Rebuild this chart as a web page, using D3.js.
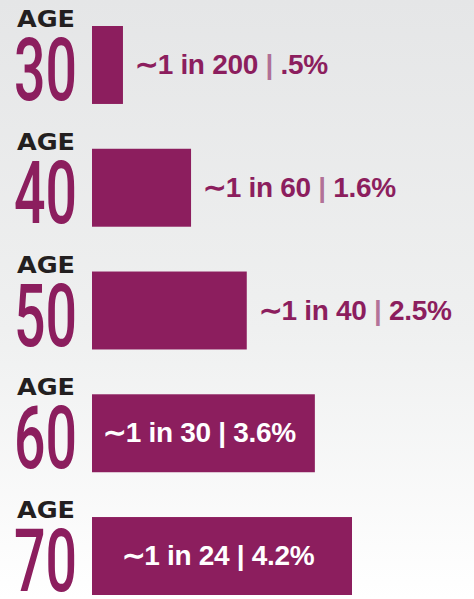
<!DOCTYPE html>
<html>
<head>
<meta charset="utf-8">
<script src="https://cdn.jsdelivr.net/npm/d3@7"></script>
<style>
  html, body { margin: 0; padding: 0; background: #fff; }
  svg { display: block; }
</style>
</head>
<body>
<svg id="drawing_region"></svg>
<script>
// data
const ages = ["30", "40", "50", "60", "70"];
const percents = [0.5, 1.6, 2.5, 3.6, 4.2];
const odds = ["1 in 200", "1 in 60", "1 in 40", "1 in 30", "1 in 24"];
const pctLabels = [".5%", "1.6%", "2.5%", "3.6%", "4.2%"];

const data = ages.map((a, i) => ({ age: a, value: percents[i], odds: odds[i], pct: pctLabels[i] }));

const width = 474;
const height = 599;
const purple = "#8c1e5e";
const margin = {top: 26, right: 10, bottom: 4, left: 92};

const svg = d3.select('#drawing_region')
    .attr('width', width)
    .attr('height', height);

// soft grey to white background
const grad = svg.append("defs").append("linearGradient")
    .attr("id", "bg").attr("x1", 0).attr("y1", 0).attr("x2", 0).attr("y2", 1);
grad.append("stop").attr("offset", "0%").attr("stop-color", "#e5e6e7");
grad.append("stop").attr("offset", "55%").attr("stop-color", "#eff0f0");
grad.append("stop").attr("offset", "100%").attr("stop-color", "#ffffff");
svg.append("rect").attr("width", width).attr("height", height).attr("fill", "url(#bg)");

const xscale = d3.scaleLinear()
    .domain([0, d3.max(data, d => d.value)])
    .range([0, 260]);

const yscale = d3.scaleBand()
    .domain(data.map(d => d.age))
    .range([margin.top, height - margin.bottom])
    .paddingInner(0.365)
    .paddingOuter(0);

const chart = svg.append('g');

// bars
chart.selectAll("rect.bar").data(data).enter()
    .append("rect")
    .attr("class", "bar")
    .attr("x", margin.left)
    .attr("y", d => yscale(d.age))
    .attr("width", d => xscale(d.value))
    .attr("height", yscale.bandwidth())
    .attr("fill", purple);

// "AGE" captions
chart.selectAll("text.agecap").data(data).enter()
    .append("text")
    .attr("class", "agecap")
    .attr("x", 17)
    .attr("y", d => yscale(d.age) + 1)
    .attr("textLength", 58)
    .attr("lengthAdjust", "spacingAndGlyphs")
    .attr("font-family", "DejaVu Sans")
    .attr("font-weight", "bold")
    .attr("font-size", "23px")
    .attr("fill", "#231f20")
    .text("AGE");

// big age numbers, squeezed to look condensed
chart.selectAll("text.agenum").data(data).enter()
    .append("text")
    .attr("class", "agenum")
    .attr("x", 14)
    .attr("y", d => yscale(d.age) + 74)
    .attr("textLength", 63)
    .attr("lengthAdjust", "spacingAndGlyphs")
    .attr("font-family", "Roboto")
    .attr("font-weight", 500)
    .attr("font-size", "88px")
    .attr("fill", purple)
    .text(d => d.age);

// value labels, outside short bars, centred inside long bars
const inside = d => xscale(d.value) > 200;
const labels = chart.selectAll("text.val").data(data).enter()
    .append("text")
    .attr("class", "val")
    .attr("x", d => inside(d) ? margin.left + xscale(d.value) / 2 - 4 : margin.left + xscale(d.value) + 12)
    .attr("y", d => yscale(d.age) + yscale.bandwidth() / 2 + 9)
    .attr("text-anchor", d => inside(d) ? "middle" : "start")
    .attr("font-family", "Liberation Sans")
    .attr("font-weight", "bold")
    .attr("font-size", "28px")
    .attr("letter-spacing", "-0.3px")
    .attr("fill", d => inside(d) ? "#ffffff" : purple);

labels.append("tspan").text(d => "\u223C" + d.odds + " ");
labels.append("tspan").attr("fill-opacity", d => inside(d) ? 1 : 0.6).text("|");
labels.append("tspan").text(d => " " + d.pct);
</script>
</body>
</html>
